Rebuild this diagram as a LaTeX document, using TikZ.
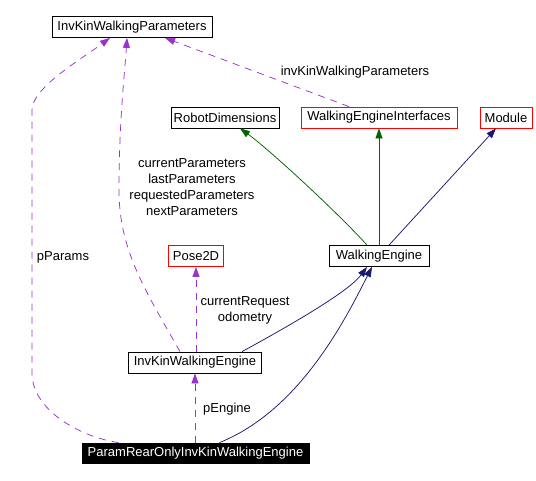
\documentclass[tikz,border=0pt]{standalone}
\usepackage{fontspec}
\setmainfont{Liberation Sans}
\usetikzlibrary{arrows.meta}
\definecolor{dpurple}{RGB}{154,50,205}
\definecolor{dnavy}{RGB}{25,25,112}
\definecolor{dgreen}{RGB}{0,100,0}
\begin{document}
\begin{tikzpicture}[x=1pt,y=-1pt,
  every node/.style={font=\fontsize{13}{16}\selectfont},
  cls/.style={draw=black,line width=0.8pt,inner sep=0pt,minimum height=21pt,fill=white},
  rcls/.style={cls,draw=red},
  hcls/.style={cls,fill=black,text=white},
  lbl/.style={inner sep=0pt,align=center},
  use/.style={draw=dpurple,line width=0.75pt,dash pattern=on 7pt off 6pt,-{Triangle[length=10pt,width=7pt,fill=dpurple]}},
  inh/.style={draw=dnavy,line width=0.75pt,-{Triangle[length=10pt,width=7pt,fill=dnavy]}},
  inhg/.style={draw=dgreen,line width=0.75pt,-{Triangle[length=10pt,width=7pt,fill=dgreen]}}]
\useasboundingbox (0,0) rectangle (536,481);
\fill[white] (0,0) rectangle (536,481);
% nodes
\node[cls,minimum width=160pt] (iwp) at (132,27) {InvKinWalkingParameters};
\node[cls,minimum width=108pt] (rd) at (225,117.5) {RobotDimensions};
\node[rcls,minimum width=156pt] (wei) at (379,117.5) {WalkingEngineInterfaces};
\node[rcls,minimum width=52pt] (mod) at (506,117.5) {Module};
\node[rcls,minimum width=55pt] (pose) at (196,256) {Pose2D};
\node[cls,minimum width=100pt] (we) at (379,256) {WalkingEngine};
\node[cls,minimum width=133pt] (iwe) at (195,362.5) {InvKinWalkingEngine};
\node[hcls,minimum width=227pt,minimum height=20pt] (pr) at (195.5,453) {ParamRearOnlyInvKinWalkingEngine};
% labels
\node[lbl] (l1) at (355,72) {invKinWalkingParameters};
\node[lbl] (l2) at (192,187) {currentParameters\\lastParameters\\requestedParameters\\nextParameters};
\node[lbl] (l3) at (63,257) {pParams};
\node[lbl] (l4) at (245,310) {currentRequest\\odometry};
\node[lbl] (l5) at (227,409) {pEngine};
% edges
\draw[use] ([xshift=-15pt]iwe.north) .. controls (145,290) and (119,250) .. (119,190)
  .. controls (119,120) and (125,70) .. ([xshift=-5pt]iwp.south);
\draw[use] ([xshift=-77pt]pr.north) .. controls (80,437) and (32,410) .. (32,373)
  -- (32,110) .. controls (32,88) and (80,60) .. ([xshift=-22pt]iwp.south);
\draw[use] ([xshift=-30pt]wei.north) -- ([xshift=33pt]iwp.south);
\draw[inhg] ([xshift=-12pt]we.north) .. controls (340,215) and (270,150) .. ([xshift=15pt]rd.south);
\draw[inhg] (we.north) -- (wei.south);
\draw[inh] ([xshift=10pt]we.north) -- ([xshift=-10pt]mod.south);
\draw[inh] ([xshift=47pt]iwe.north) .. controls (300,320) and (350,290) .. ([xshift=-12pt]we.south);
\draw[inh] ([xshift=24pt]pr.north) .. controls (300,410) and (345,320) .. ([xshift=-7pt]we.south);
\draw[use] (pose.south |- iwe.north) -- (pose.south);
\draw[use] (iwe.south |- pr.north) -- (iwe.south);
\end{tikzpicture}
\end{document}
